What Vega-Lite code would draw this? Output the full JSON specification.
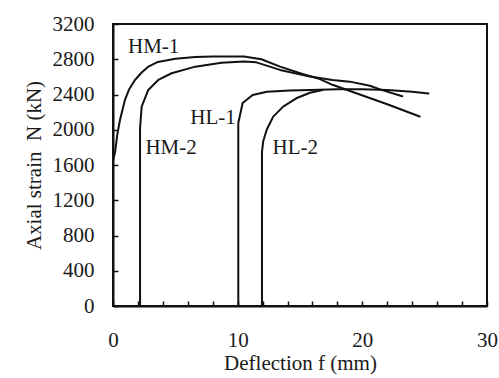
{
  "$schema": "https://vega.github.io/schema/vega-lite/v6.json",
  "width": 374,
  "height": 282,
  "autosize": "none",
  "padding": {"left": 113, "top": 24, "right": 12, "bottom": 72},
  "background": "white",
  "config": {
    "view": {"stroke": "#111", "strokeWidth": 2},
    "font": "Liberation Serif",
    "axis": {
      "labelFont": "Liberation Serif",
      "titleFont": "Liberation Serif",
      "labelFontSize": 21,
      "titleFontSize": 21,
      "titleFontWeight": "normal",
      "labelColor": "#1a1a1a",
      "titleColor": "#1a1a1a",
      "domainColor": "#111",
      "domainWidth": 2,
      "tickColor": "#111",
      "tickWidth": 1.5,
      "tickSize": -5,
      "grid": false,
      "labelOverlap": false
    }
  },
  "datasets": {
    "curves": [
      {"series": "HM-1", "i": 0, "f": 0, "N": 0},
      {"series": "HM-1", "i": 1, "f": 0, "N": 1650},
      {"series": "HM-1", "i": 2, "f": 0.16, "N": 1740},
      {"series": "HM-1", "i": 3, "f": 0.35, "N": 1950},
      {"series": "HM-1", "i": 4, "f": 0.56, "N": 2110},
      {"series": "HM-1", "i": 5, "f": 0.96, "N": 2340},
      {"series": "HM-1", "i": 6, "f": 1.3, "N": 2460},
      {"series": "HM-1", "i": 7, "f": 1.76, "N": 2565},
      {"series": "HM-1", "i": 8, "f": 2.3, "N": 2650},
      {"series": "HM-1", "i": 9, "f": 2.8, "N": 2713},
      {"series": "HM-1", "i": 10, "f": 3.6, "N": 2770},
      {"series": "HM-1", "i": 11, "f": 5.0, "N": 2805},
      {"series": "HM-1", "i": 12, "f": 6.6, "N": 2826},
      {"series": "HM-1", "i": 13, "f": 8.0, "N": 2830},
      {"series": "HM-1", "i": 14, "f": 10.5, "N": 2830},
      {"series": "HM-1", "i": 15, "f": 11.9, "N": 2800},
      {"series": "HM-1", "i": 16, "f": 13.4, "N": 2716},
      {"series": "HM-1", "i": 17, "f": 15.2, "N": 2633},
      {"series": "HM-1", "i": 18, "f": 16.6, "N": 2575},
      {"series": "HM-1", "i": 19, "f": 17.6, "N": 2510},
      {"series": "HM-1", "i": 20, "f": 19.8, "N": 2400},
      {"series": "HM-1", "i": 21, "f": 22.0, "N": 2290},
      {"series": "HM-1", "i": 22, "f": 24.6, "N": 2150},

      {"series": "HM-2", "i": 0, "f": 2.17, "N": 0},
      {"series": "HM-2", "i": 1, "f": 2.17, "N": 2017},
      {"series": "HM-2", "i": 2, "f": 2.3, "N": 2262},
      {"series": "HM-2", "i": 3, "f": 2.83, "N": 2452},
      {"series": "HM-2", "i": 4, "f": 3.63, "N": 2565},
      {"series": "HM-2", "i": 5, "f": 4.7, "N": 2641},
      {"series": "HM-2", "i": 6, "f": 6.6, "N": 2716},
      {"series": "HM-2", "i": 7, "f": 8.7, "N": 2760},
      {"series": "HM-2", "i": 8, "f": 10.5, "N": 2775},
      {"series": "HM-2", "i": 9, "f": 11.5, "N": 2765},
      {"series": "HM-2", "i": 10, "f": 13.4, "N": 2679},
      {"series": "HM-2", "i": 11, "f": 15.8, "N": 2603},
      {"series": "HM-2", "i": 12, "f": 17.6, "N": 2565},
      {"series": "HM-2", "i": 13, "f": 19.0, "N": 2546},
      {"series": "HM-2", "i": 14, "f": 20.6, "N": 2500},
      {"series": "HM-2", "i": 15, "f": 21.6, "N": 2450},
      {"series": "HM-2", "i": 16, "f": 23.2, "N": 2380},

      {"series": "HL-1", "i": 0, "f": 10.05, "N": 0},
      {"series": "HL-1", "i": 1, "f": 10.05, "N": 2077},
      {"series": "HL-1", "i": 2, "f": 10.4, "N": 2304},
      {"series": "HL-1", "i": 3, "f": 11.2, "N": 2395},
      {"series": "HL-1", "i": 4, "f": 12.35, "N": 2432},
      {"series": "HL-1", "i": 5, "f": 14.2, "N": 2444},
      {"series": "HL-1", "i": 6, "f": 15.8, "N": 2452},
      {"series": "HL-1", "i": 7, "f": 18.0, "N": 2460},
      {"series": "HL-1", "i": 8, "f": 20.0, "N": 2460},
      {"series": "HL-1", "i": 9, "f": 22.0, "N": 2450},
      {"series": "HL-1", "i": 10, "f": 24.0, "N": 2430},
      {"series": "HL-1", "i": 11, "f": 25.3, "N": 2410},

      {"series": "HL-2", "i": 0, "f": 11.95, "N": 0},
      {"series": "HL-2", "i": 1, "f": 11.95, "N": 1750},
      {"series": "HL-2", "i": 2, "f": 12.05, "N": 1870},
      {"series": "HL-2", "i": 3, "f": 12.33, "N": 2000},
      {"series": "HL-2", "i": 4, "f": 12.85, "N": 2149},
      {"series": "HL-2", "i": 5, "f": 13.65, "N": 2262},
      {"series": "HL-2", "i": 6, "f": 14.7, "N": 2357},
      {"series": "HL-2", "i": 7, "f": 15.8, "N": 2420},
      {"series": "HL-2", "i": 8, "f": 16.8, "N": 2450}
    ],
    "labels": [
      {"name": "HM-1", "f": 1.2, "N": 2940},
      {"name": "HM-2", "f": 2.6, "N": 1790},
      {"name": "HL-1", "f": 6.2, "N": 2130},
      {"name": "HL-2", "f": 12.8, "N": 1790}
    ]
  },
  "encoding": {
    "x": {
      "field": "f", "type": "quantitative",
      "scale": {"domain": [0, 30], "nice": false, "zero": false},
      "axis": {
        "title": "Deflection f (mm)",
        "values": [0, 2, 4, 6, 8, 10, 12, 14, 16, 18, 20, 22, 24, 26, 28, 30],
        "labelExpr": "datum.value % 10 === 0 ? datum.label : ''",
        "labelOverlap": false,
        "labelFlush": false,
        "format": "d",
        "labelPadding": 28,
        "titlePadding": 2
      }
    },
    "y": {
      "field": "N", "type": "quantitative",
      "scale": {"domain": [0, 3200], "nice": false},
      "axis": {
        "title": "Axial strain\u00a0\u00a0N (kN)",
        "values": [0, 400, 800, 1200, 1600, 2000, 2400, 2800, 3200],
        "labelOverlap": false,
        "labelFlush": false,
        "format": "d",
        "labelPadding": 24,
        "titlePadding": 8
      }
    }
  },
  "layer": [
    {
      "data": {"name": "curves"},
      "mark": {"type": "line", "color": "#111", "strokeWidth": 2, "strokeJoin": "round", "strokeCap": "round"},
      "encoding": {
        "detail": {"field": "series"},
        "order": {"field": "i", "type": "quantitative"}
      }
    },
    {
      "data": {"name": "labels"},
      "mark": {"type": "text", "font": "Liberation Serif", "fontSize": 21, "color": "#1a1a1a", "align": "left", "baseline": "middle"},
      "encoding": {
        "text": {"field": "name"}
      }
    },
    {
      "description": "Right and top edges of the plot frame, at the ends of both scales",
      "mark": {"type": "rule", "color": "#111", "strokeWidth": 2},
      "encoding": {
        "x": {
          "datum": 30, "type": "quantitative",
          "scale": {"domain": [0, 30], "nice": false, "zero": false},
          "axis": {
            "title": "Deflection f (mm)",
            "values": [0, 2, 4, 6, 8, 10, 12, 14, 16, 18, 20, 22, 24, 26, 28, 30],
            "labelExpr": "datum.value % 10 === 0 ? datum.label : ''",
            "labelOverlap": false,
            "labelFlush": false,
            "format": "d",
            "labelPadding": 28,
            "titlePadding": 2
          }
        },
        "y": {
          "datum": 0, "type": "quantitative",
          "scale": {"domain": [0, 3200], "nice": false},
          "axis": {
            "title": "Axial strain\u00a0\u00a0N (kN)",
            "values": [0, 400, 800, 1200, 1600, 2000, 2400, 2800, 3200],
            "labelOverlap": false,
            "labelFlush": false,
            "format": "d",
            "labelPadding": 24,
            "titlePadding": 8
          }
        },
        "y2": {"datum": 3200}
      }
    },
    {
      "mark": {"type": "rule", "color": "#111", "strokeWidth": 2},
      "encoding": {
        "x": {
          "datum": 0, "type": "quantitative",
          "scale": {"domain": [0, 30], "nice": false, "zero": false},
          "axis": {
            "title": "Deflection f (mm)",
            "values": [0, 2, 4, 6, 8, 10, 12, 14, 16, 18, 20, 22, 24, 26, 28, 30],
            "labelExpr": "datum.value % 10 === 0 ? datum.label : ''",
            "labelOverlap": false,
            "labelFlush": false,
            "format": "d",
            "labelPadding": 28,
            "titlePadding": 2
          }
        },
        "x2": {"datum": 30},
        "y": {
          "datum": 3200, "type": "quantitative",
          "scale": {"domain": [0, 3200], "nice": false},
          "axis": {
            "title": "Axial strain\u00a0\u00a0N (kN)",
            "values": [0, 400, 800, 1200, 1600, 2000, 2400, 2800, 3200],
            "labelOverlap": false,
            "labelFlush": false,
            "format": "d",
            "labelPadding": 24,
            "titlePadding": 8
          }
        }
      }
    }
  ]
}
